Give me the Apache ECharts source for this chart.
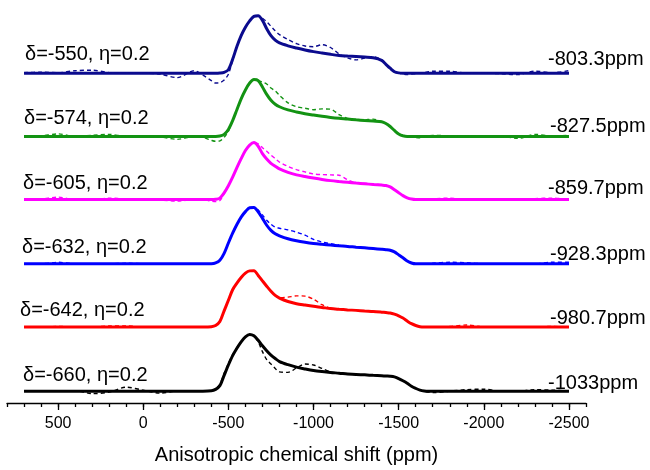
<!DOCTYPE html>
<html><head><meta charset="utf-8">
<script src="https://cdn.jsdelivr.net/npm/echarts@6/dist/echarts.min.js"></script>
<style>html,body{margin:0;padding:0;background:#fff}#c{width:650px;height:470px}</style>
</head><body><div id="c"></div>
<script>
// chemical shift grid (ppm)
const ppm = [700,600,500,400,300,200,100,0,-100,-200,-300,-350,-400,-425,-450,-475,-500,-525,-550,-575,-600,-625,-650,-675,-700,-725,-750,-775,-800,-850,-900,-950,-1000,-1050,-1100,-1150,-1200,-1250,-1300,-1350,-1400,-1425,-1450,-1475,-1500,-1525,-1550,-1575,-1600,-1625,-1650,-1675,-1700,-1800,-1900,-2000,-2100,-2200,-2300,-2400,-2500];

// fitted (solid) and experimental (dashed) intensities, arbitrary units
const fitNavy = [0,0,0,0,0,0,0,0,0,0,0,0,0,0,0.2,0.9,3.5,14,27,38,46.5,53,57.5,58.2,53.5,45,38,33.5,30.6,27.7,25.5,23.5,21.8,20.4,19.1,18,17.4,16.9,16.3,15.6,13,9,5,1.5,0.3,0,0,0,0,0,0,0,0,0,0,0,0,0,0,0,0];
const expNavy = [0.5,1,0.5,2.5,3,0.5,0,0,-1,-4.5,2.5,-2,-7.5,-10,-9.5,-7,-1,13,27,38,46.5,53,57.5,58.2,55.7,52,47.5,43,39,34,30,27.5,26.8,28.8,26,19.5,15.5,13.5,15.2,16.7,13.5,9,5,1.5,0,-1,-1.5,-1,-0.5,0,0.5,1.5,2,2,0,0,-0.5,-1.5,2,0.5,2.5];

const fitGreen = [0,0,0,0,0,0,0,0,0,0,0,0,0,0,0.4,2,7,16,27,38,47,54,57.5,56.5,50,42.5,36.5,32.5,30,26.8,24.7,23,21.6,20.3,19.2,18.3,17.6,16.8,16.1,15.5,14.8,13,10,6,2.5,0.6,0,0,0,0,0,0,0,0,0,0,0,0,0,0,0];
const expGreen = [0,0.5,2.5,0,1,2,0,0,-0.5,-3,0,-1,-4,-5,-4.5,-1,5,16,27,38,47,54,57.5,56.5,55,53,49,46,41.5,34,30,28.5,27,27.8,27.5,22,18,16.5,16.8,17.5,15,13,10,6,2.5,0.5,0,0,-1,-1.5,-0.5,0.5,1,0.5,0,0,0,-2,2,0.5,1];

const fitMagenta = [0,0,0,0,0,0,0,0,0,0,0,0,0,0.3,1.5,6.8,14,22.7,32.3,41.4,49.7,55.2,57.7,54,46.5,41,36.7,33.7,31,27.5,25,23.3,21.8,20.4,19.2,18.3,17.5,16.7,16,15.3,14.7,14.3,12.8,10,7,4,1.8,0.5,0,0,0,0,0,0,0,0,0,0,0,0,0];
const expMagenta = [0,0.5,2.5,0,0,1.5,0.5,0,-0.5,-1.5,0,0,-1.5,-2,-1,6,14,22.7,32.3,41.4,49.7,55.2,57.7,56.5,52.5,49,45,41.5,38,33.5,30.3,28,26,25.3,25,24.7,20,17,16.3,16,14.7,14.3,12.8,10,7,4,1.8,0.5,0,0,0,0,0.5,1.5,0,0,0,0,1,1.5,0];

const fitBlue = [0,0,0,0,0,0,0,0,0,0,0,0,0,0.8,3.5,10.5,21,31,39.8,47.3,52.8,56.8,57,52.5,46,39,33.8,30.3,28.3,25.3,23.3,21.8,20.6,19.7,18.9,18.2,17.6,16.8,16.1,15.4,14.7,14.3,13.7,12,9,6,2.8,0.8,0,0,0,0,0,0,0,0,0,0,0,0,0];
const expBlue = [0,0,1.5,0,0,0,0.5,0,0,-0.5,0,0,0,0.5,3.5,10.5,21,31,39.8,47.3,52.8,56.8,57,54.5,49.5,44,40,37,36,34.3,32,29,24.7,22,20.3,18.8,17.6,16.8,16.1,15.4,14.7,14.3,13.7,12,9,6,3,1.2,0.5,0,0,0,0.5,1.5,1,0,0,0,0,1.5,1.5];

const fitRed = [0,0,0,0,0,0,0,0,0,0,0,0,0.3,1.5,5.5,16.3,27,37.7,44.3,50,54.5,56.8,57,52.2,46.7,41.3,36.2,32,29.3,25.8,23.6,22.2,20.9,19.8,18.6,17.9,17.3,16.8,16.2,15.7,15,14.6,14.2,13,11.3,9,6,3.3,1.5,0.3,0,0,0,0,0,0,0,0,0,0,0];
const expRed = [0,0,0.5,0,0,1,1,0,0,0,0,0,0.3,1.5,5.5,16.3,27,37.7,44.3,50,54.5,56.8,57,52.2,46.7,41.3,36.2,32,29.5,30.2,31.5,31.2,28,22.5,19.2,17.9,17.3,16.8,16.2,15.7,15,14.6,14.2,13,11.3,9,6,3.3,1.5,0.3,0,0,0,0.5,2,0,0,0,0,0.5,0];

const fitBlack = [0,0,0,0,0,0,0,0,0,0,0,0,0.3,1.8,5.5,16,26.5,36,43.5,50,55,57.3,56,51.5,46,41,36.5,33,30,26.8,24.3,22.5,20.9,19.8,18.9,18.2,17.4,16.8,16.5,16,15.6,15.3,15.1,14.5,12.7,10.5,8,5,2.8,1,0.2,0,0,0,0,0,0,0,0,0,0];
const expBlack = [0.5,0,0,0.5,-2.5,-1,4,1,-2,0,0,0,0.3,2.5,7,18,28,37,44,50,55,57.3,56,50,40,32,27.5,23,19.5,19,23.5,27.5,26.5,23,19.5,18.2,17.4,16.8,16.5,16,15.6,15.3,15.1,14.5,12.7,10.5,8,5,2.8,1,0,-1,-1.5,0,1.5,2,0,0,1.5,1,0];

// vertical offsets of the stacked spectra (same units)
const offsets = [334, 270, 206, 141, 77, 12];
const leftLabels = ['δ=-550, η=0.2','δ=-574, η=0.2','δ=-605, η=0.2','δ=-632, η=0.2','δ=-642, η=0.2','δ=-660, η=0.2'];
const rightLabels = ['-803.3ppm','-827.5ppm','-859.7ppm','-928.3ppm','-980.7ppm','-1033ppm'];
const majorTicks = [500,0,-500,-1000,-1500,-2000,-2500];
const xTitle = 'Anisotropic chemical shift (ppm)';

const colors = ['#0b0b8e','#139313','#ff00ff','#0000ff','#ff0000','#000000'];
const fits = [fitNavy, fitGreen, fitMagenta, fitBlue, fitRed, fitBlack];
const exps = [expNavy, expGreen, expMagenta, expBlue, expRed, expBlack];

const minorTicks = [];
for (let v = 800; v >= -2600; v -= 100) minorTicks.push(v);

const FONT = '"Liberation Sans", Arial, Helvetica, sans-serif';
const series = [];
fits.forEach((f, i) => {
  series.push({
    type: 'line', xAxisIndex: 0, yAxisIndex: 0, showSymbol: false, smooth: 0.3, z: 2,
    data: ppm.map((x, j) => [x, offsets[i] + f[j]]),
    lineStyle: { color: colors[i], width: 3 }, itemStyle: { color: colors[i] }
  });
});
exps.forEach((e, i) => {
  series.push({
    type: 'line', xAxisIndex: 0, yAxisIndex: 0, showSymbol: false, smooth: 0.3, z: 3,
    data: ppm.map((x, j) => [x, offsets[i] + e[j]]),
    lineStyle: { color: colors[i], width: 1.4, type: [4, 3] }, itemStyle: { color: colors[i] }
  });
});

const leftPos = [[25,54],[24,118],[23,183],[22,247],[20,310],[23,375]];
const rightPos = [[548,59],[550,126],[548,188],[550,254],[550,318],[548,383]];
const graphic = [];
leftLabels.forEach((t, i) => graphic.push({ type: 'text', x: leftPos[i][0], y: leftPos[i][1],
  style: { text: t, fontSize: 20, fontFamily: FONT, fill: '#000', verticalAlign: 'middle', textVerticalAlign: 'middle' } }));
rightLabels.forEach((t, i) => graphic.push({ type: 'text', x: rightPos[i][0], y: rightPos[i][1],
  style: { text: t, fontSize: 20, fontFamily: FONT, fill: '#000', verticalAlign: 'middle', textVerticalAlign: 'middle' } }));

const chart = echarts.init(document.getElementById('c'), null, { renderer: 'canvas' });
chart.setOption({
  animation: false,
  backgroundColor: '#fff',
  grid: { left: 7, right: 64, top: 8, bottom: 62, containLabel: false },
  xAxis: [{
    type: 'value', min: -2600, max: 800, inverse: true, position: 'bottom',
    axisLine: { show: true, onZero: false, lineStyle: { color: '#000', width: 1.3 } },
    axisTick: { show: true, customValues: majorTicks, length: 7, lineStyle: { color: '#000', width: 1.3 } },
    axisLabel: { customValues: majorTicks, fontSize: 16, color: '#000', fontFamily: FONT, margin: 13, formatter: v => String(v) },
    splitLine: { show: false },
    name: xTitle, nameLocation: 'middle', nameGap: 42,
    nameTextStyle: { fontSize: 20, color: '#000', fontFamily: FONT }
  }, {
    type: 'value', min: -2600, max: 800, inverse: true, position: 'bottom',
    axisLine: { show: false, onZero: false },
    axisTick: { show: true, customValues: minorTicks, length: 4, lineStyle: { color: '#000', width: 1.3 } },
    axisLabel: { show: false }, splitLine: { show: false }
  }],
  yAxis: { type: 'value', min: 0, max: 400, show: false, splitLine: { show: false } },
  series: series,
  graphic: graphic
});
</script>
</body></html>
